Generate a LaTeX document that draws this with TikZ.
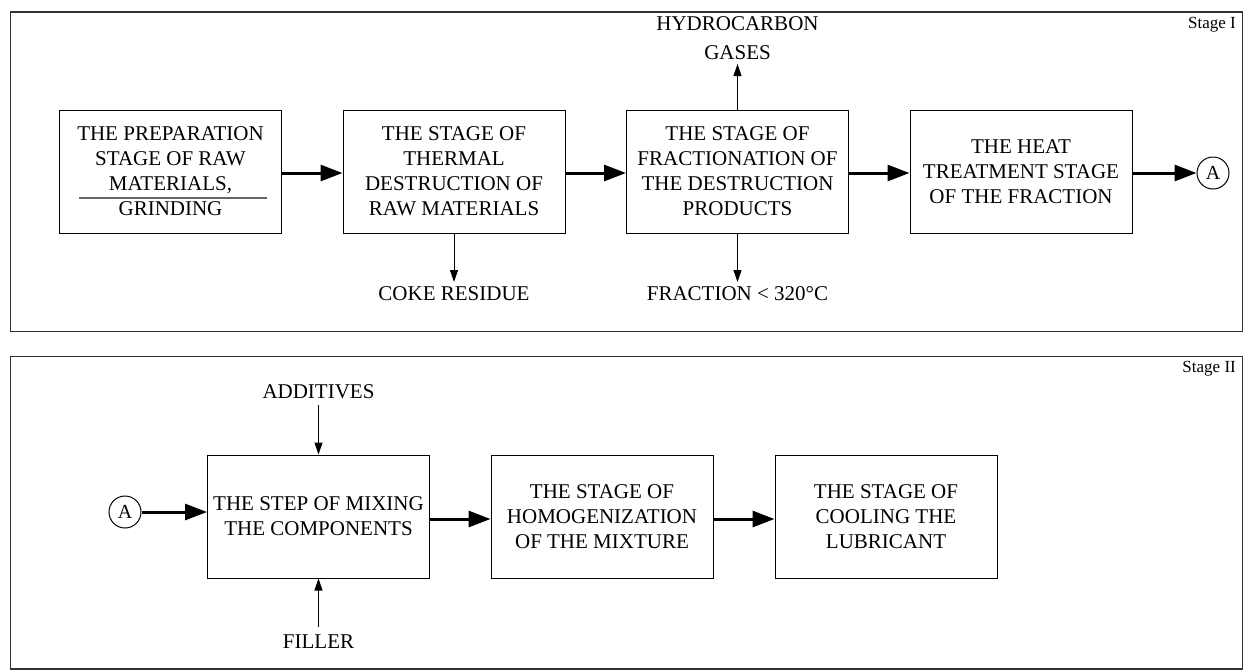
\documentclass[tikz,border=0pt]{standalone}
\usepackage{fontspec}
\setmainfont{Liberation Serif}
\usetikzlibrary{arrows.meta}
\begin{document}
\begin{tikzpicture}[x=1pt,y=-1pt,
  procbox/.style={draw,line width=1pt,minimum width=222pt,minimum height=123pt,align=center,
    font=\fontsize{21}{25}\selectfont,inner sep=0pt},
  lbl/.style={align=center,font=\fontsize{21}{26}\selectfont,inner sep=0pt},
  stagelbl/.style={font=\fontsize{17}{20}\selectfont,inner sep=0pt,anchor=east},
  frame/.style={draw=black!80,line width=1.2pt},
  bigarrow/.style={line width=3pt,-{Triangle[length=22pt,width=16pt]}},
  thinarrow/.style={line width=1pt,-{Triangle[length=12pt,width=8pt]}},
  conn/.style={draw,circle,line width=1pt,minimum size=32pt,inner sep=0pt,font=\fontsize{20}{20}\selectfont}]
\useasboundingbox (0,0) rectangle (1244,670);
% frames
\draw[frame] (10.5,12) rectangle (1242.5,331.5);
\draw[frame] (10.5,356.5) rectangle (1242.5,669);
\node[stagelbl] (s1) at (1236,25) {Stage I};
\node[stagelbl] (s2) at (1236,369) {Stage II};
% Stage I boxes
\node[procbox] (b1) at (170.5,171.5) {THE PREPARATION\\STAGE OF RAW\\MATERIALS,\\GRINDING};
\draw[black!60,line width=1.2pt] (79,198) -- (267,198);
\node[procbox] (b2) at (454,171.5) {THE STAGE OF\\THERMAL\\DESTRUCTION OF\\RAW MATERIALS};
\node[procbox] (b3) at (737.5,171.5) {THE STAGE OF\\FRACTIONATION OF\\THE DESTRUCTION\\PRODUCTS};
\node[procbox] (b4) at (1021,171.5) {THE HEAT\\TREATMENT STAGE\\OF THE FRACTION};
\node[conn] (a1) at (1213,173) {A};
\draw[bigarrow] (b1.east |- 0,173) -- (b2.west |- 0,173);
\draw[bigarrow] (b2.east |- 0,173) -- (b3.west |- 0,173);
\draw[bigarrow] (b3.east |- 0,173) -- (b4.west |- 0,173);
\draw[bigarrow] (b4.east |- 0,173) -- (a1.west);
% side outputs
\node[lbl,font=\fontsize{21}{29}\selectfont] (gases) at (737.5,38) {HYDROCARBON\\GASES};
\coordinate (gasend) at (737.5,64);
\draw[thinarrow] (b3.north) -- (gasend);
\node[lbl] (coke) at (454,294) {COKE RESIDUE};
\coordinate (cokeend) at (454,282);
\draw[thinarrow] (b2.south) -- (cokeend);
\node[lbl] (frac) at (737.5,294) {FRACTION < 320°C};
\coordinate (fracend) at (737.5,282);
\draw[thinarrow] (b3.south) -- (fracend);
% Stage II
\node[procbox] (c1) at (318.5,516.5) {THE STEP OF MIXING\\THE COMPONENTS};
\node[procbox] (c2) at (602,516.5) {THE STAGE OF\\HOMOGENIZATION\\OF THE MIXTURE};
\node[procbox] (c3) at (886,516.5) {THE STAGE OF\\COOLING THE\\LUBRICANT};
\node[conn] (a2) at (125,512) {A};
\draw[bigarrow] (a2.east) -- (c1.west |- a2.east);
\draw[bigarrow] (c1.east |- 0,519) -- (c2.west |- 0,519);
\draw[bigarrow] (c2.east |- 0,519) -- (c3.west |- 0,519);
\node[lbl] (add) at (318.5,392) {ADDITIVES};
\coordinate (addstart) at (318.5,405);
\draw[thinarrow] (addstart) -- (c1.north);
\node[lbl] (fill) at (318.5,642) {FILLER};
\coordinate (fillstart) at (318.5,627);
\draw[thinarrow] (fillstart) -- (c1.south);
\end{tikzpicture}
\end{document}
